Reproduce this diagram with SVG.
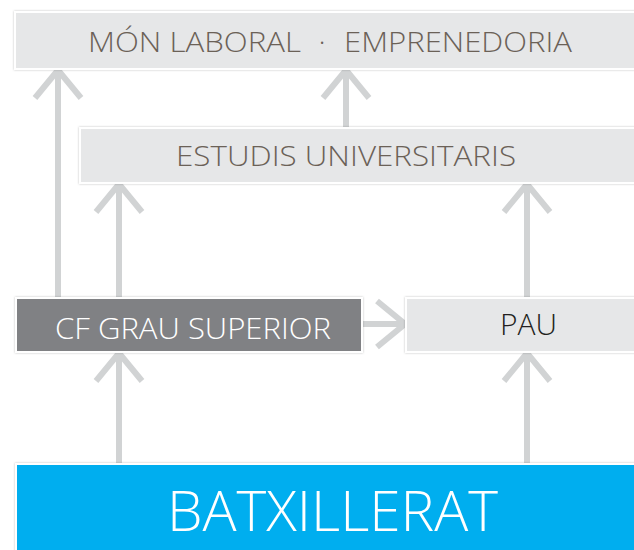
<svg xmlns="http://www.w3.org/2000/svg" width="634" height="550" viewBox="0 0 634 550">
<style>
.box{stroke:#ffffff;stroke-width:2;filter:url(#sh)}
.light{fill:#e6e7e8}
.t{font-family:"Open Sans","Liberation Sans",sans-serif;font-weight:350}
.brown{fill:#6b6157}
.conn{stroke:#d1d3d4;stroke-width:6;fill:none}
</style>
<defs>
<filter id="sh" x="-5%" y="-20%" width="110%" height="140%">
<feDropShadow dx="0" dy="0" stdDeviation="1.2" flood-color="#000" flood-opacity="0.25"/>
</filter>
<marker id="ah" markerUnits="userSpaceOnUse" viewBox="-32 -26 34 52" refX="0" refY="0" markerWidth="34" markerHeight="52" orient="auto" overflow="visible">
<path d="M-28,-23 L0,0 L-28,23" fill="none" stroke="#d1d3d4" stroke-width="6"/>
</marker>
</defs>
<g id="connectors">
<line class="conn" x1="58" y1="298" x2="58" y2="70" marker-end="url(#ah)"/>
<line class="conn" x1="346" y1="128" x2="346" y2="70" marker-end="url(#ah)"/>
<line class="conn" x1="119" y1="298" x2="119" y2="184" marker-end="url(#ah)"/>
<line class="conn" x1="527" y1="298" x2="527" y2="184" marker-end="url(#ah)"/>
<line class="conn" x1="119" y1="464" x2="119" y2="353" marker-end="url(#ah)"/>
<line class="conn" x1="527" y1="464" x2="527" y2="353" marker-end="url(#ah)"/>
<line class="conn" x1="362" y1="324" x2="405" y2="324" marker-end="url(#ah)"/>
</g>
<g id="mon-laboral">
<rect class="box light" x="15" y="12" width="640" height="57"/>
<text class="t brown" font-size="28" y="52"><tspan x="88" textLength="213" lengthAdjust="spacingAndGlyphs">MÓN LABORAL</tspan><tspan x="322" text-anchor="middle">·</tspan><tspan x="344" textLength="228" lengthAdjust="spacingAndGlyphs">EMPRENEDORIA</tspan></text>
</g>
<g id="estudis">
<rect class="box light" x="80" y="128" width="580" height="55"/>
<text class="t brown" font-size="27" x="176" y="166" textLength="340" lengthAdjust="spacingAndGlyphs">ESTUDIS UNIVERSITARIS</text>
</g>
<g id="cf">
<rect class="box" fill="#808184" x="16" y="298" width="346" height="54"/>
<text class="t" fill="#ffffff" font-size="29" x="55" y="339" textLength="276" lengthAdjust="spacingAndGlyphs">CF GRAU SUPERIOR</text>
</g>
<g id="pau">
<rect class="box light" x="406" y="298" width="260" height="54"/>
<text class="t" fill="#231f20" font-size="30" x="500" y="335" textLength="57" lengthAdjust="spacingAndGlyphs">PAU</text>
</g>
<g id="batxillerat">
<rect class="box" fill="#00aeef" x="16" y="464" width="640" height="100"/>
<text class="t" fill="#ffffff" font-size="56" x="167" y="531" textLength="331" lengthAdjust="spacingAndGlyphs">BATXILLERAT</text>
</g>
</svg>
